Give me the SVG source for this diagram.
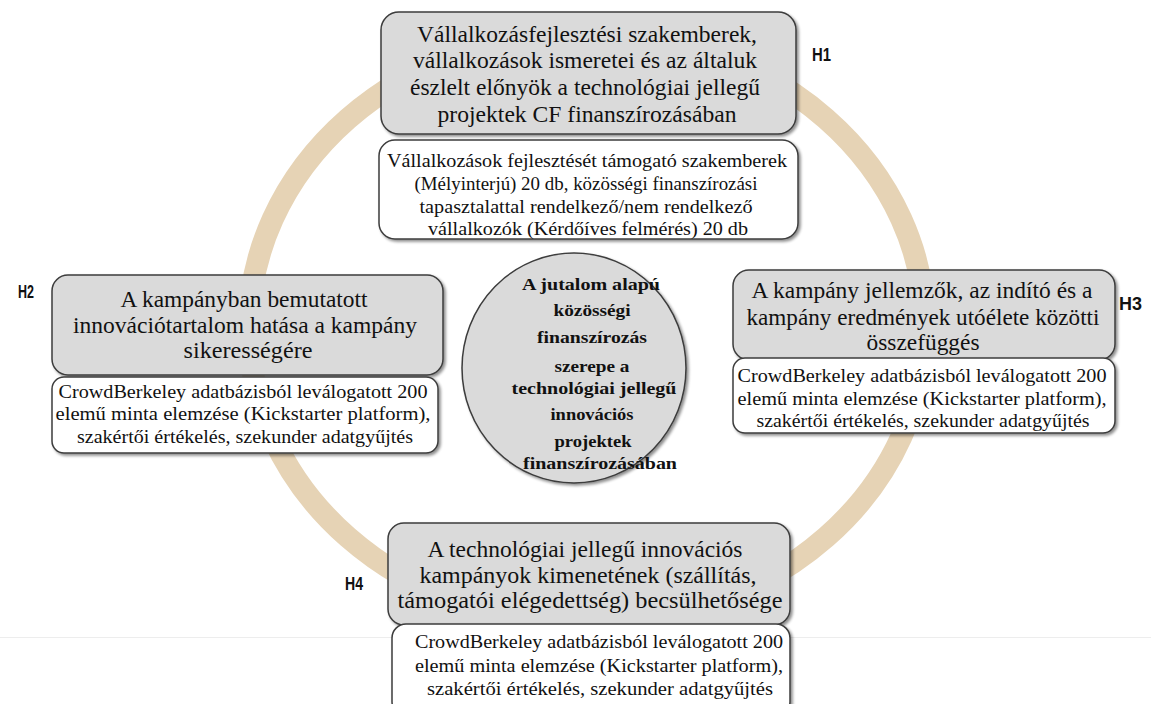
<svg xmlns="http://www.w3.org/2000/svg" width="1151" height="704" viewBox="0 0 1151 704">
  <style>
    .ring { fill: none; stroke: #e6d3b5; stroke-width: 22; }
    .head { fill: #dadada; stroke: #3c3c3c; stroke-width: 1.5; filter: url(#shadow); }
    .sub  { fill: #ffffff; stroke: #3c3c3c; stroke-width: 1.5; filter: url(#shadow); }
    .hub  { fill: #dadada; stroke: #3c3c3c; stroke-width: 1.5; filter: url(#shadow); }
    .th { font-family: "Liberation Serif", "Times New Roman", serif; font-size: 23px; fill: #111; text-anchor: middle; }
    .ts { font-family: "Liberation Serif", "Times New Roman", serif; font-size: 19px; fill: #111; text-anchor: middle; }
    .tc { font-family: "Liberation Serif", "Times New Roman", serif; font-size: 17px; font-weight: bold; fill: #111; text-anchor: middle; }
    .lbl { font-family: "Liberation Sans", Arial, sans-serif; font-size: 18px; font-weight: bold; fill: #111; }
  </style>
  <defs>
    <filter id="shadow" x="-5%" y="-5%" width="112%" height="115%">
      <feGaussianBlur in="SourceAlpha" stdDeviation="1.5"/>
      <feOffset dx="1.5" dy="2" result="b"/>
      <feComponentTransfer><feFuncA type="linear" slope="0.45"/></feComponentTransfer>
      <feMerge><feMergeNode/><feMergeNode in="SourceGraphic"/></feMerge>
    </filter>
  </defs>

  <rect width="1151" height="704" fill="#ffffff"/>
  <!-- faint page rule near the bottom edge -->
  <line x1="0" y1="637.5" x2="1151" y2="637.5" stroke="#ededed" stroke-width="1"/>

  <!-- cycle ring linking the four hypotheses -->
  <g id="connectors">
    <ellipse class="ring" cx="587" cy="328" rx="338" ry="296"/>
  </g>

  <!-- central topic -->
  <g id="hub">
    <ellipse class="hub" cx="574" cy="368" rx="112" ry="115"/>
    <text class="tc" x="591" y="290" textLength="138" lengthAdjust="spacingAndGlyphs">A jutalom alapú</text>
    <text class="tc" x="592" y="316" textLength="77" lengthAdjust="spacingAndGlyphs">közösségi</text>
    <text class="tc" x="592" y="343" textLength="110" lengthAdjust="spacingAndGlyphs">finanszírozás</text>
    <text class="tc" x="592" y="372" textLength="75" lengthAdjust="spacingAndGlyphs">szerepe a</text>
    <text class="tc" x="594" y="394" textLength="165" lengthAdjust="spacingAndGlyphs">technológiai jellegű</text>
    <text class="tc" x="592" y="420" textLength="83" lengthAdjust="spacingAndGlyphs">innovációs</text>
    <text class="tc" x="593" y="447" textLength="77" lengthAdjust="spacingAndGlyphs">projektek</text>
    <text class="tc" x="600" y="469" textLength="154" lengthAdjust="spacingAndGlyphs">finanszírozásában</text>
  </g>

  <!-- H1 -->
  <g id="h1">
    <text class="lbl" x="812" y="61" textLength="19" lengthAdjust="spacingAndGlyphs">H1</text>
    <rect class="head" x="381" y="12" width="415" height="122" rx="18"/>
    <text class="th" x="587" y="42" textLength="340" lengthAdjust="spacingAndGlyphs">Vállalkozásfejlesztési szakemberek,</text>
    <text class="th" x="585" y="68" textLength="344" lengthAdjust="spacingAndGlyphs">vállalkozások ismeretei és az általuk</text>
    <text class="th" x="585" y="95" textLength="350" lengthAdjust="spacingAndGlyphs">észlelt előnyök a technológiai jellegű</text>
    <text class="th" x="587" y="122" textLength="299" lengthAdjust="spacingAndGlyphs">projektek CF finanszírozásában</text>
    <rect class="sub" x="379" y="140" width="419" height="99" rx="16"/>
    <text class="ts" x="587" y="167" textLength="400" lengthAdjust="spacingAndGlyphs">Vállalkozások fejlesztését támogató szakemberek</text>
    <text class="ts" x="586" y="190" textLength="343" lengthAdjust="spacingAndGlyphs">(Mélyinterjú) 20 db, közösségi finanszírozási</text>
    <text class="ts" x="586" y="213" textLength="333" lengthAdjust="spacingAndGlyphs">tapasztalattal rendelkező/nem rendelkező</text>
    <text class="ts" x="588" y="235" textLength="320" lengthAdjust="spacingAndGlyphs">vállalkozók (Kérdőíves felmérés) 20 db</text>
  </g>

  <!-- H2 -->
  <g id="h2">
    <text class="lbl" x="18" y="298" textLength="16" lengthAdjust="spacingAndGlyphs">H2</text>
    <rect class="head" x="52" y="275" width="391" height="100" rx="16"/>
    <text class="th" x="244" y="307" textLength="247" lengthAdjust="spacingAndGlyphs">A kampányban bemutatott</text>
    <text class="th" x="245" y="333" textLength="344" lengthAdjust="spacingAndGlyphs">innovációtartalom hatása a kampány</text>
    <text class="th" x="248" y="358" textLength="129" lengthAdjust="spacingAndGlyphs">sikerességére</text>
    <rect class="sub" x="52" y="377" width="386" height="76" rx="12"/>
    <text class="ts" x="243" y="398" textLength="369" lengthAdjust="spacingAndGlyphs">CrowdBerkeley adatbázisból leválogatott 200</text>
    <text class="ts" x="243" y="420" textLength="375" lengthAdjust="spacingAndGlyphs">elemű minta elemzése (Kickstarter platform),</text>
    <text class="ts" x="245" y="443" textLength="336" lengthAdjust="spacingAndGlyphs">szakértői értékelés, szekunder adatgyűjtés</text>
  </g>

  <!-- H3 -->
  <g id="h3">
    <text class="lbl" x="1119" y="310" textLength="23" lengthAdjust="spacingAndGlyphs">H3</text>
    <rect class="head" x="733" y="270" width="382" height="90" rx="16"/>
    <text class="th" x="922" y="298" textLength="341" lengthAdjust="spacingAndGlyphs">A kampány jellemzők, az indító és a</text>
    <text class="th" x="923" y="325" textLength="353" lengthAdjust="spacingAndGlyphs">kampány eredmények utóélete közötti</text>
    <text class="th" x="923" y="350" textLength="113" lengthAdjust="spacingAndGlyphs">összefüggés</text>
    <rect class="sub" x="733" y="358" width="382" height="75" rx="12"/>
    <text class="ts" x="922" y="382" textLength="369" lengthAdjust="spacingAndGlyphs">CrowdBerkeley adatbázisból leválogatott 200</text>
    <text class="ts" x="922" y="405" textLength="369" lengthAdjust="spacingAndGlyphs">elemű minta elemzése (Kickstarter platform),</text>
    <text class="ts" x="923" y="427" textLength="333" lengthAdjust="spacingAndGlyphs">szakértői értékelés, szekunder adatgyűjtés</text>
  </g>

  <!-- H4 -->
  <g id="h4">
    <text class="lbl" x="345" y="590" textLength="18" lengthAdjust="spacingAndGlyphs">H4</text>
    <rect class="head" x="388" y="523" width="402" height="102" rx="16"/>
    <text class="th" x="585" y="557" textLength="315" lengthAdjust="spacingAndGlyphs">A technológiai jellegű innovációs</text>
    <text class="th" x="588" y="583" textLength="337" lengthAdjust="spacingAndGlyphs">kampányok kimenetének (szállítás,</text>
    <text class="th" x="590" y="608" textLength="385" lengthAdjust="spacingAndGlyphs">támogatói elégedettség) becsülhetősége</text>
    <rect class="sub" x="392" y="624" width="398" height="92" rx="14"/>
    <text class="ts" x="599" y="648" textLength="368" lengthAdjust="spacingAndGlyphs">CrowdBerkeley adatbázisból leválogatott 200</text>
    <text class="ts" x="599" y="672" textLength="368" lengthAdjust="spacingAndGlyphs">elemű minta elemzése (Kickstarter platform),</text>
    <text class="ts" x="600" y="695" textLength="346" lengthAdjust="spacingAndGlyphs">szakértői értékelés, szekunder adatgyűjtés</text>
  </g>
</svg>
